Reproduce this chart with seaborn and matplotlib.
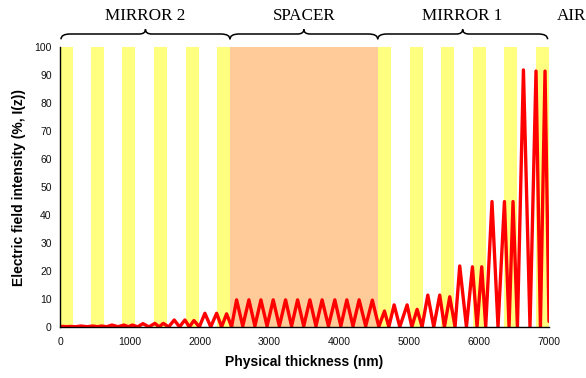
import numpy as np
import pandas as pd
import matplotlib
matplotlib.use("Agg")
import matplotlib.pyplot as plt
from matplotlib.path import Path
from matplotlib.patches import PathPatch
from matplotlib.transforms import blended_transform_factory
import seaborn as sns

# ---- data ----
# high-index layers (yellow) : start / end in nm
h_start = [0, 444, 887, 1346, 1804, 2247, 4548, 5010, 5454, 5912, 6356, 6814]
h_end = [186, 630, 1074, 1532, 1990, 2433, 4738, 5196, 5640, 6098, 6542, 7000]
# spacer layer
spacer_start = [2433]
spacer_end = [4548]

# structure labels and their spans (nm)
region_labels = ["MIRROR 2", "SPACER", "MIRROR 1"]
region_start = [14, 2433, 4548]
region_end = [2433, 4548, 6980]
air_label = "AIR"

# electric field intensity profile: peaks and troughs (nm, %)
field_x = [0, 40, 95, 150, 225, 300, 386, 472, 533, 594, 669, 744, 830, 916, 977,
           1037, 1112, 1187, 1273, 1359, 1418, 1478, 1556, 1635, 1711, 1788, 1852,
           1917, 1995, 2074, 2158, 2242, 2313, 2385, 2456,
           2528, 2616, 2704, 2790, 2876, 2964, 3052, 3140, 3229, 3315, 3401, 3489,
           3577, 3664, 3752, 3843, 3934, 4020, 4106, 4194, 4282, 4376, 4471, 4564,
           4645, 4707, 4783, 4864, 4969, 5036, 5112, 5183, 5265, 5350, 5436, 5503,
           5579, 5655, 5722, 5818, 5904, 5970, 6037, 6094, 6184, 6270, 6362, 6428,
           6485, 6548, 6634, 6728, 6814, 6877, 6943, 7000]
field_y = [0.15, 0.2, 0.1, 0.2, 0.1, 0.35, 0.1, 0.35, 0.1, 0.35, 0.1, 0.7, 0.1, 0.7, 0.1,
           0.7, 0.05, 1.2, 0.05, 1.3, 0.05, 1.3, 0.05, 2.5, 0.05, 2.5, 0.05,
           2.3, 0.05, 4.9, 0.05, 4.9, 0.05, 4.7, 0.1,
           9.7, 0.3, 9.7, 0.3, 9.7, 0.3, 9.7, 0.3, 9.7, 0.3, 9.7, 0.3,
           9.7, 0.3, 9.7, 0.3, 9.7, 0.3, 9.7, 0.3, 9.7, 0.3, 9.6, 0.1,
           5.7, 0.05, 7.9, 0.05, 7.9, 0.05, 6.3, 0.05, 11.4, 0.05, 11.4, 0.05,
           10.8, 0.05, 21.8, 0.05, 21.5, 0.05, 21.5, 0.05, 44.8, 0.05, 44.8, 0.05,
           44.8, 0.05, 91.8, 0.05, 91.4, 0.05, 91.4, 2.0]

x_ticks = [0, 1000, 2000, 3000, 4000, 5000, 6000, 7000]
y_ticks = [0, 10, 20, 30, 40, 50, 60, 70, 80, 90, 100]

# ---- style ----
sns.set_style("white")
plt.rcParams['font.family'] = ['Liberation Sans', 'DejaVu Sans']

fig = plt.figure(figsize=(5.86, 3.78), dpi=100)
ax = fig.add_axes([60 / 586, 1 - 327 / 378, 489 / 586, 280 / 378])

# layers as bars
ax.bar(h_start, 100, width=np.array(h_end) - np.array(h_start), align='edge',
       color='#FFFF80', linewidth=0, zorder=1)
ax.bar(spacer_start, 100, width=np.array(spacer_end) - np.array(spacer_start), align='edge',
       color='#FFCC99', linewidth=0, zorder=1)

df = pd.DataFrame({"x": field_x, "y": field_y})
sns.lineplot(data=df, x="x", y="y", ax=ax, color='#FF0000', linewidth=2.4,
             estimator=None, sort=False, zorder=3, solid_joinstyle='round')

ax.set_xlim(0, 7000)
ax.set_ylim(0, 100)
ax.set_xticks(x_ticks)
ax.set_yticks(y_ticks)
ax.tick_params(axis='both', direction='out', length=3, width=0.8, colors='black',
               labelsize=7.5, labelcolor='#111111')
ax.tick_params(axis='x', pad=4)
ax.tick_params(axis='y', pad=3)
for s in ['top', 'right']:
    ax.spines[s].set_visible(False)
for s in ['left', 'bottom']:
    ax.spines[s].set_color('black')
    ax.spines[s].set_linewidth(1.0)
    ax.spines[s].set_zorder(4)

ax.set_xlabel("Physical thickness (nm)", fontsize=10, fontweight='bold', labelpad=6,
              color='black')
ax.set_ylabel("Electric field intensity (%, I(z))", fontsize=10, fontweight='bold',
              labelpad=6, color='black')

# braces and region labels above the plot
trans = blended_transform_factory(ax.transData, ax.transAxes)
ye = 1 + (47 - 39.3) / 280
ym = 1 + (47 - 34.0) / 280
yt = 1 + (47 - 29.3) / 280
w = 130
w2 = 90
for lab, x0, x1 in zip(region_labels, region_start, region_end):
    xc = (x0 + x1) / 2
    verts = [(x0, ye), (x0, ym), (x0 + w, ym), (xc - w2, ym), (xc, ym), (xc, yt),
             (xc, ym), (xc + w2, ym), (x1 - w, ym), (x1, ym), (x1, ye)]
    codes = [Path.MOVETO, Path.CURVE3, Path.CURVE3, Path.LINETO, Path.CURVE3, Path.CURVE3,
             Path.CURVE3, Path.CURVE3, Path.LINETO, Path.CURVE3, Path.CURVE3]
    patch = PathPatch(Path(verts, codes), fill=False, edgecolor='black', lw=1.1,
                      transform=trans, clip_on=False)
    ax.add_patch(patch)
    ax.text(xc, 1 + (47 - 20) / 280, lab, transform=trans, ha='center', va='baseline',
            fontsize=12.3, family='Liberation Serif', color='black')

ax.text(7110, 1 + (47 - 20) / 280, air_label, transform=trans, ha='left', va='baseline',
        fontsize=12.3, family='Liberation Serif', color='black', clip_on=False)

fig.savefig("out.png", dpi=100)
